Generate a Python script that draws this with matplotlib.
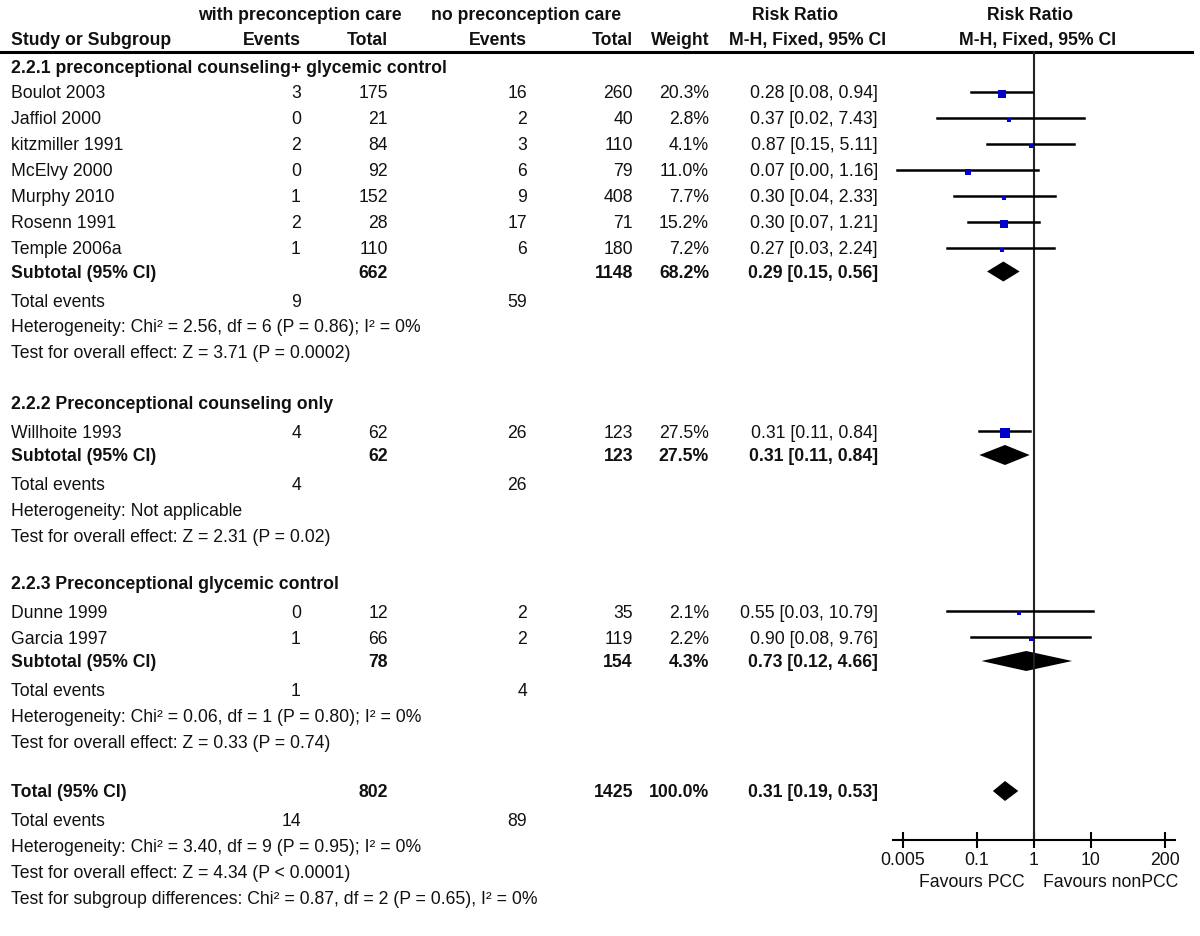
import numpy as np
import matplotlib
matplotlib.use("Agg")
import matplotlib.pyplot as plt

plt.rcParams['font.family'] = ['Liberation Sans', 'DejaVu Sans']

# ---- data ----
# 2.2.1 preconceptional counseling + glycemic control
studies1 = ['Boulot 2003', 'Jaffiol 2000', 'kitzmiller 1991', 'McElvy 2000',
            'Murphy 2010', 'Rosenn 1991', 'Temple 2006a']
ev_pcc1 = [3, 0, 2, 0, 1, 2, 1]
tot_pcc1 = [175, 21, 84, 92, 152, 28, 110]
ev_no1 = [16, 2, 3, 6, 9, 17, 6]
tot_no1 = [260, 40, 110, 79, 408, 71, 180]
weight1 = [20.3, 2.8, 4.1, 11.0, 7.7, 15.2, 7.2]
rr1 = [0.28, 0.37, 0.87, 0.07, 0.30, 0.30, 0.27]
lo1 = [0.08, 0.02, 0.15, 0.004, 0.04, 0.07, 0.03]
hi1 = [0.94, 7.43, 5.11, 1.16, 2.33, 1.21, 2.24]
sub1 = dict(tot_pcc=662, tot_no=1148, weight=68.2, rr=0.29, lo=0.15, hi=0.56,
            ev_pcc=9, ev_no=59)
het1 = 'Heterogeneity: Chi² = 2.56, df = 6 (P = 0.86); I² = 0%'
test1 = 'Test for overall effect: Z = 3.71 (P = 0.0002)'

# 2.2.2 preconceptional counseling only
studies2 = ['Willhoite 1993']
ev_pcc2 = [4]
tot_pcc2 = [62]
ev_no2 = [26]
tot_no2 = [123]
weight2 = [27.5]
rr2 = [0.31]
lo2 = [0.11]
hi2 = [0.84]
sub2 = dict(tot_pcc=62, tot_no=123, weight=27.5, rr=0.31, lo=0.11, hi=0.84,
            ev_pcc=4, ev_no=26)
het2 = 'Heterogeneity: Not applicable'
test2 = 'Test for overall effect: Z = 2.31 (P = 0.02)'

# 2.2.3 preconceptional glycemic control
studies3 = ['Dunne 1999', 'Garcia 1997']
ev_pcc3 = [0, 1]
tot_pcc3 = [12, 66]
ev_no3 = [2, 2]
tot_no3 = [35, 119]
weight3 = [2.1, 2.2]
rr3 = [0.55, 0.90]
lo3 = [0.03, 0.08]
hi3 = [10.79, 9.76]
sub3 = dict(tot_pcc=78, tot_no=154, weight=4.3, rr=0.73, lo=0.12, hi=4.66,
            ev_pcc=1, ev_no=4)
het3 = 'Heterogeneity: Chi² = 0.06, df = 1 (P = 0.80); I² = 0%'
test3 = 'Test for overall effect: Z = 0.33 (P = 0.74)'

total = dict(tot_pcc=802, tot_no=1425, weight=100.0, rr=0.31, lo=0.19, hi=0.53,
             ev_pcc=14, ev_no=89)
het_all = 'Heterogeneity: Chi² = 3.40, df = 9 (P = 0.95); I² = 0%'
test_all = 'Test for overall effect: Z = 4.34 (P < 0.0001)'
test_sub = 'Test for subgroup differences: Chi² = 0.87, df = 2 (P = 0.65), I² = 0%'

groups = [
    ('2.2.1 preconceptional counseling+ glycemic control',
     studies1, ev_pcc1, tot_pcc1, ev_no1, tot_no1, weight1, rr1, lo1, hi1, sub1, het1, test1),
    ('2.2.2 Preconceptional counseling only',
     studies2, ev_pcc2, tot_pcc2, ev_no2, tot_no2, weight2, rr2, lo2, hi2, sub2, het2, test2),
    ('2.2.3 Preconceptional glycemic control',
     studies3, ev_pcc3, tot_pcc3, ev_no3, tot_no3, weight3, rr3, lo3, hi3, sub3, het3, test3),
]

ticks = [0.005, 0.1, 1, 10, 200]
tick_labels = ['0.005', '0.1', '1', '10', '200']

# ---- layout ----
FS = 12.7
TXT = '#111111'
BLUE = '#0000c8'
X_STUDY, X_EV1, X_TOT1, X_EV2, X_TOT2, X_W, X_CI = 11, 301, 388, 527, 633, 709, 878
Y_AXIS = 840
heading_y = [67, 403, 583]
heading_gap = [25.5, 29, 29]

fig = plt.figure(figsize=(12, 9.36), dpi=100)
ax = fig.add_axes([0, 0, 1, 1])
ax.set_xlim(0, 1200)
ax.set_ylim(936, 0)
ax.axis('off')

# forest panel: log axis, y in the same pixel rows as the table
fx0, fx1 = 892.8, 1175.2
fax = fig.add_axes([fx0 / 1200, 0, (fx1 - fx0) / 1200, 1])
fax.set_xscale('log')
fax.set_xlim(1 / 300, 300)
fax.set_ylim(936, 0)
fax.patch.set_visible(False)
for s in ['top', 'left', 'right']:
    fax.spines[s].set_visible(False)
fax.spines['bottom'].set_position(('data', Y_AXIS))
fax.spines['bottom'].set_linewidth(1.5)
fax.set_yticks([])
fax.set_xticks(ticks)
fax.set_xticklabels(tick_labels)
fax.minorticks_off()
fax.tick_params(axis='x', direction='inout', length=11, width=1.5, pad=3,
                labelsize=FS, labelcolor=TXT)


def txt(x, y, s, ha='left', bold=False):
    # small downward nudge: va='center' sits a touch high for this font
    ax.text(x, y + 1.5, s, ha=ha, va='center', fontsize=FS, color=TXT,
            fontweight='bold' if bold else 'normal')


def ci_str(r, lo, hi):
    return f'{r:.2f} [{lo:.2f}, {hi:.2f}]'


def diamond(r, lo, hi, y):
    fax.fill([lo, r, hi, r], [y, y - 10, y, y + 10], color='black', lw=0)


# header
txt(300, 14, 'with preconception care', ha='center', bold=True)
txt(526, 14, 'no preconception care', ha='center', bold=True)
txt(795, 14, 'Risk Ratio', ha='center', bold=True)
txt(1030, 14, 'Risk Ratio', ha='center', bold=True)
txt(X_STUDY, 39, 'Study or Subgroup', bold=True)
txt(X_EV1, 39, 'Events', ha='right', bold=True)
txt(X_TOT1, 39, 'Total', ha='right', bold=True)
txt(X_EV2, 39, 'Events', ha='right', bold=True)
txt(X_TOT2, 39, 'Total', ha='right', bold=True)
txt(X_W, 39, 'Weight', ha='right', bold=True)
txt(808, 39, 'M-H, Fixed, 95% CI', ha='center', bold=True)
txt(1038, 39, 'M-H, Fixed, 95% CI', ha='center', bold=True)
ax.plot([0, 1192], [52, 52], color='black', lw=2.2)

# line of no effect
fax.plot([1, 1], [52, Y_AXIS], color='#222222', lw=1.5)

for g, (title, names, e1, t1, e2, t2, w, rr, lo, hi, sub, het, test) in enumerate(groups):
    y = heading_y[g]
    txt(X_STUDY, y, title, bold=True)
    y += heading_gap[g]
    for i in range(len(names)):
        txt(X_STUDY, y, names[i])
        txt(X_EV1, y, str(e1[i]), ha='right')
        txt(X_TOT1, y, str(t1[i]), ha='right')
        txt(X_EV2, y, str(e2[i]), ha='right')
        txt(X_TOT2, y, str(t2[i]), ha='right')
        txt(X_W, y, f'{w[i]:.1f}%', ha='right')
        txt(X_CI, y, ci_str(rr[i], lo[i], hi[i]), ha='right')
        fax.plot([lo[i], hi[i]], [y - 1, y - 1], color='black', lw=1.8)
        side = max(4.0, 18 * np.sqrt(w[i] / 100))
        fax.plot([rr[i]], [y + 1], marker='s', color=BLUE, ms=side * 0.72, mew=0)
        y += 26
    y -= 3
    txt(X_STUDY, y, 'Subtotal (95% CI)', bold=True)
    txt(X_TOT1, y, str(sub['tot_pcc']), ha='right', bold=True)
    txt(X_TOT2, y, str(sub['tot_no']), ha='right', bold=True)
    txt(X_W, y, f"{sub['weight']:.1f}%", ha='right', bold=True)
    txt(X_CI, y, ci_str(sub['rr'], sub['lo'], sub['hi']), ha='right', bold=True)
    diamond(sub['rr'], sub['lo'], sub['hi'], y)
    y += 29.5
    txt(X_STUDY, y, 'Total events')
    txt(X_EV1, y, str(sub['ev_pcc']), ha='right')
    txt(X_EV2, y, str(sub['ev_no']), ha='right')
    txt(X_STUDY, y + 25.5, het)
    txt(X_STUDY, y + 51, test)

# overall
y = 791
txt(X_STUDY, y, 'Total (95% CI)', bold=True)
txt(X_TOT1, y, str(total['tot_pcc']), ha='right', bold=True)
txt(X_TOT2, y, str(total['tot_no']), ha='right', bold=True)
txt(X_W, y, f"{total['weight']:.1f}%", ha='right', bold=True)
txt(X_CI, y, ci_str(total['rr'], total['lo'], total['hi']), ha='right', bold=True)
diamond(total['rr'], total['lo'], total['hi'], y)
y += 29
txt(X_STUDY, y, 'Total events')
txt(X_EV1, y, str(total['ev_pcc']), ha='right')
txt(X_EV2, y, str(total['ev_no']), ha='right')
txt(X_STUDY, y + 26, het_all)
txt(X_STUDY, y + 52, test_all)
txt(X_STUDY, y + 78, test_sub)

txt(1025, 881, 'Favours PCC', ha='right')
txt(1043, 881, 'Favours nonPCC')

fig.savefig('out.png', dpi=100)
